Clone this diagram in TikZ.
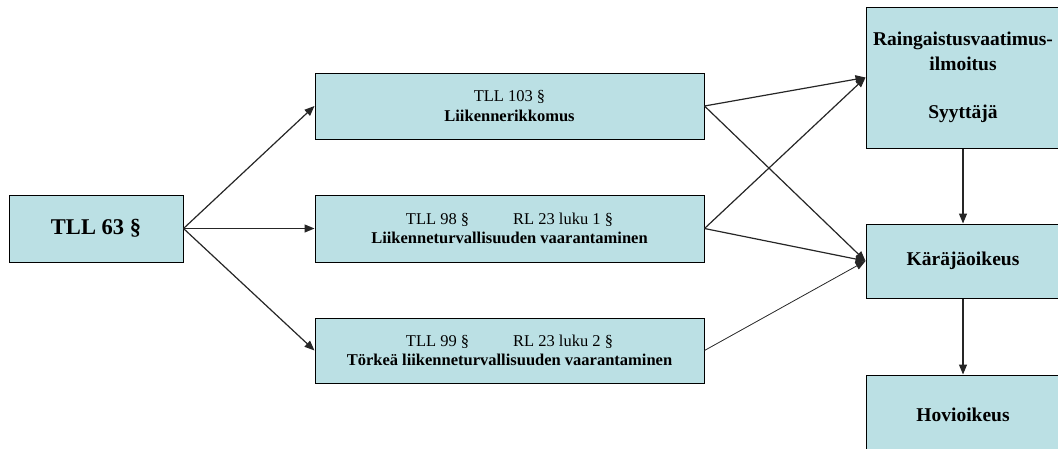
\documentclass[tikz,border=0pt]{standalone}
\usepackage{fontspec}
\setmainfont{Liberation Serif}
\usetikzlibrary{arrows.meta}
\definecolor{boxfill}{RGB}{187,224,228}
\begin{document}
\begin{tikzpicture}[x=1pt,y=-1pt,
  box/.style={draw=black, line width=1pt, fill=boxfill, align=center, inner sep=0pt, anchor=center},
  arr/.style={-{Triangle[length=10pt,width=8pt]}, line width=1.2pt, draw=black!85},
  thinarr/.style={arr, line width=0.8pt},
  midtext/.style={font=\fontsize{16.5}{19.5}\selectfont},
  bigtext/.style={font=\fontsize{19.5}{24.3}\selectfont\bfseries}]
\path[use as bounding box] (0,0) rectangle (1058,448);
\clip (0,0) rectangle (1058,448);
\node[box, minimum width=174pt, minimum height=67pt, font=\fontsize{22.5}{26}\selectfont\bfseries] (L) at (96,228.5) {TLL 63 §};
\node[box, midtext, minimum width=389pt, minimum height=66pt] (M1) at (509.5,106) {TLL 103 §\\\textbf{Liikennerikkomus}};
\node[box, midtext, minimum width=389pt, minimum height=67pt] (M2) at (509.5,228.5) {TLL 98 §\hspace{44pt}RL 23 luku 1 §\\\textbf{Liikenneturvallisuuden vaarantaminen}};
\node[box, midtext, minimum width=389pt, minimum height=65pt] (M3) at (509.5,350.5) {TLL 99 §\hspace{44pt}RL 23 luku 2 §\\\textbf{Törkeä liikenneturvallisuuden vaarantaminen}};
\node[box, bigtext, minimum width=194pt, minimum height=141pt] (R1) at (963,77.5) {Raingaistusvaatimus-\\ilmoitus\\[24.3pt]Syyttäjä};
\node[box, bigtext, minimum width=194pt, minimum height=74pt] (R2) at (963,261) {Käräjäoikeus};
\node[box, bigtext, minimum width=194pt, minimum height=80pt] (R3) at (963,415) {Hovioikeus};
\draw[arr] (L.east) -- (M1.west);
\draw[arr] (L.east) -- (M2.west);
\draw[arr] (L.east) -- (M3.west);
\draw[arr] (M1.east) -- (R1.west);
\draw[arr] (M1.east) -- (R2.west);
\draw[arr] (M2.east) -- (R1.west);
\draw[arr] (M2.east) -- (R2.west);
\draw[thinarr] (M3.east) -- (R2.west);
\draw[arr] (R1.south) -- (R2.north);
\draw[arr] (R2.south) -- (R3.north);
\end{tikzpicture}
\end{document}
